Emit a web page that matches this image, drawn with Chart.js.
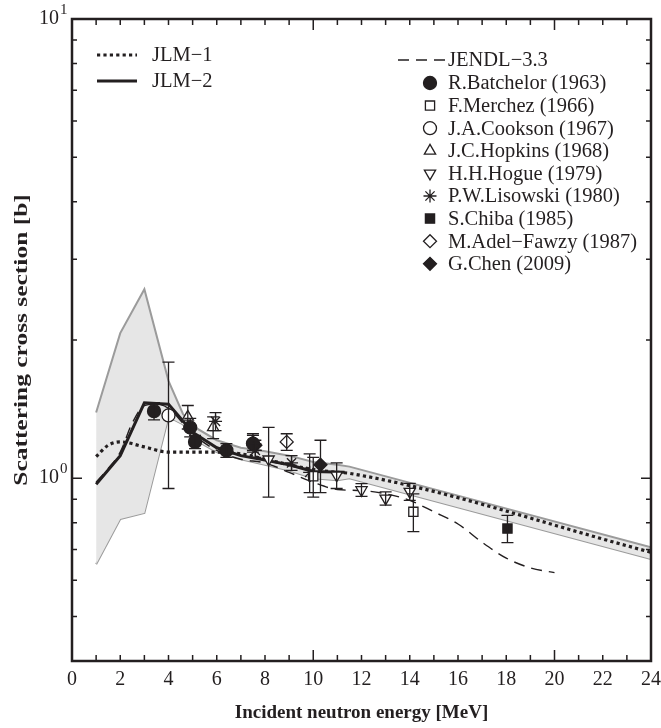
<!DOCTYPE html>
<html>
<head>
<meta charset="utf-8">
<script src="https://cdn.jsdelivr.net/npm/chart.js@4.4.0/dist/chart.umd.min.js"></script>
<style>
  html, body { margin: 0; padding: 0; background: #fff; }
  #wrap { width: 661px; height: 728px; }
</style>
</head>
<body>
<div id="wrap"><canvas id="chart"></canvas></div>
<script>
// axis ranges / tick labels
const xRange = [0, 24];
const xTickLabels = [0, 2, 4, 6, 8, 10, 12, 14, 16, 18, 20, 22, 24];
const yRange = [0.4, 10];
const yTickValues = [1, 10];
const yTickBase = ['10', '10'];
const yTickExp = ['0', '1'];
const yTitle = 'Scattering cross section [b]';

// uncertainty band of the JLM calculations
const bandE = [1, 2, 3, 4, 4.6, 5, 6, 7, 8, 9, 10, 11, 11.5, 24];
const bandUpper = [1.39, 2.07, 2.58, 1.63, 1.38, 1.30, 1.21, 1.165, 1.145, 1.12, 1.085, 1.07, 1.06, 0.707];
const bandLower = [0.65, 0.815, 0.84, 1.36, 1.31, 1.22, 1.14, 1.10, 1.07, 1.04, 1.0, 0.99, 1.0, 0.667];

// calculations
const jlm1E = [1, 1.5, 2, 3, 4, 5, 6, 7, 8, 9, 10, 11, 11.5, 24];
const jlm1S = [1.115, 1.18, 1.2, 1.17, 1.14, 1.14, 1.14, 1.13, 1.10, 1.07, 1.045, 1.03, 1.025, 0.69];
const jlm2E = [1, 2, 3, 4, 5, 6, 7, 8, 9, 10, 11.3];
const jlm2S = [0.97, 1.12, 1.46, 1.45, 1.26, 1.165, 1.12, 1.095, 1.07, 1.035, 1.03];
const jendlE = [1, 1.5, 2, 2.5, 3, 3.5, 4, 5, 6, 7, 8, 9, 10, 11, 12, 13, 14, 15, 16, 17, 18, 19, 20];
const jendlS = [0.98, 1.05, 1.14, 1.32, 1.44, 1.45, 1.42, 1.25, 1.15, 1.10, 1.08, 1.03, 0.98, 0.945, 0.94, 0.925, 0.895, 0.845, 0.795, 0.725, 0.67, 0.638, 0.623];

// measurements (energy, cross section, error)
const batchelorE = [3.4, 4.9, 5.1, 6.4, 7.5];
const batchelorS = [1.40, 1.29, 1.20, 1.15, 1.19];
const batchelorErr = [0.06, 0.06, 0.04, 0.04, 0.05];
const merchezE = [10.0, 14.15];
const merchezS = [1.01, 0.845];
const merchezErr = [0.10, 0.08];
const cooksonE = [4.0];
const cooksonS = [1.37];
const cooksonErr = [0.42];
const hopkinsE = [4.8, 5.85, 7.5];
const hopkinsS = [1.36, 1.29, 1.20];
const hopkinsErr = [0.08, 0.07, 0.05];
const hogueE = [8.15, 10.97, 12.0, 13.0, 14.0];
const hogueS = [1.10, 1.015, 0.943, 0.904, 0.935];
const hogueErr = [0.19, 0.065, 0.03, 0.03, 0.04];
const lisowskiE = [5.95, 7.6, 9.1, 9.85];
const lisowskiS = [1.33, 1.15, 1.08, 1.03];
const lisowskiErr = [0.06, 0.04, 0.04, 0.10];
const chibaE = [18.05];
const chibaS = [0.777];
const chibaErr = [0.053];
const adelE = [8.9];
const adelS = [1.20];
const adelErr = [0.05];
const chenE = [7.6, 10.3];
const chenS = [1.18, 1.07];
const chenErr = [0.03, 0.14];

const INK = '#231f20';
const GRAY = '#9b9b9b';
const SERIF = '"Liberation Serif", "Times New Roman", serif';

const pts = (xs, ys) => xs.map((x, i) => ({ x: x, y: ys[i] }));

function lineSet(label, xs, ys, extra) {
  return Object.assign({
    label: label,
    data: pts(xs, ys),
    showLine: true,
    borderColor: INK,
    backgroundColor: INK,
    pointRadius: 0,
    tension: 0,
    fill: false
  }, extra);
}

function markerSet(label, xs, ys, errs, style, filled, extra) {
  return Object.assign({
    label: label,
    data: pts(xs, ys),
    errs: errs,
    showLine: false,
    pointStyle: style,
    pointRadius: 6.5,
    pointBorderWidth: 1.3,
    borderColor: INK,
    backgroundColor: filled ? INK : '#fff',
    order: 1
  }, extra);
}

const bandSets = [
  lineSet('band upper', bandE, bandUpper, { borderColor: GRAY, borderWidth: 2, fill: '+1', backgroundColor: '#e6e6e6', order: 10 }),
  lineSet('band lower', bandE, bandLower, { borderColor: GRAY, borderWidth: 2, order: 10 })
];
const jendl = lineSet('JENDL−3.3', jendlE, jendlS, { borderWidth: 1.4, borderDash: [11, 7], cubicInterpolationMode: 'monotone', order: 5 });
const jlm1 = lineSet('JLM−1', jlm1E, jlm1S, { borderWidth: 3.2, borderDash: [3.2, 3.2], cubicInterpolationMode: 'monotone', order: 4 });
const jlm2 = lineSet('JLM−2', jlm2E, jlm2S, { borderWidth: 3, order: 3 });

const markers = [
  markerSet('R.Batchelor (1963)', batchelorE, batchelorS, batchelorErr, 'circle', true),
  markerSet('F.Merchez (1966)', merchezE, merchezS, merchezErr, 'rect', false),
  markerSet('J.A.Cookson (1967)', cooksonE, cooksonS, cooksonErr, 'circle', false),
  markerSet('J.C.Hopkins (1968)', hopkinsE, hopkinsS, hopkinsErr, 'triangle', false),
  markerSet('H.H.Hogue (1979)', hogueE, hogueS, hogueErr, 'triangle', false, { pointRotation: 180 }),
  markerSet('P.W.Lisowski (1980)', lisowskiE, lisowskiS, lisowskiErr, 'star', false),
  markerSet('S.Chiba (1985)', chibaE, chibaS, chibaErr, 'rect', true),
  markerSet('M.Adel−Fawzy (1987)', adelE, adelS, adelErr, 'rectRot', false),
  markerSet('G.Chen (2009)', chenE, chenS, chenErr, 'rectRot', true)
];

// error bars drawn through the scales
const errorBars = {
  id: 'errorBars',
  afterDatasetsDraw(chart) {
    const ctx = chart.ctx, xs = chart.scales.x, ys = chart.scales.y;
    ctx.save();
    ctx.strokeStyle = INK;
    ctx.lineWidth = 1.3;
    chart.data.datasets.forEach(ds => {
      if (!ds.errs) return;
      ds.data.forEach((p, i) => {
        const e = ds.errs[i];
        const px = xs.getPixelForValue(p.x);
        const y1 = ys.getPixelForValue(p.y + e), y2 = ys.getPixelForValue(p.y - e);
        ctx.beginPath();
        ctx.moveTo(px, y1); ctx.lineTo(px, y2);
        ctx.moveTo(px - 6, y1); ctx.lineTo(px + 6, y1);
        ctx.moveTo(px - 6, y2); ctx.lineTo(px + 6, y2);
        ctx.stroke();
      });
    });
    ctx.restore();
  }
};

// frame, inward ticks, y exponents and the (stretched) y title
const frame = {
  id: 'frame',
  afterDraw(chart) {
    const ctx = chart.ctx, a = chart.chartArea, xs = chart.scales.x, ys = chart.scales.y;
    ctx.save();
    ctx.strokeStyle = INK;
    ctx.lineWidth = 1.5;
    for (let v = xRange[0] + 1; v < xRange[1]; v++) {
      const px = xs.getPixelForValue(v);
      const len = v % 10 === 0 ? 11 : 6;
      ctx.beginPath();
      ctx.moveTo(px, a.bottom); ctx.lineTo(px, a.bottom - len);
      ctx.moveTo(px, a.top); ctx.lineTo(px, a.top + len);
      ctx.stroke();
    }
    const yMinor = [0.5, 0.6, 0.7, 0.8, 0.9, 2, 3, 4, 5, 6, 7, 8, 9];
    yMinor.concat(yTickValues).forEach(v => {
      const py = ys.getPixelForValue(v);
      const len = yTickValues.includes(v) ? 10 : 5;
      ctx.beginPath();
      ctx.moveTo(a.left, py); ctx.lineTo(a.left + len, py);
      ctx.moveTo(a.right, py); ctx.lineTo(a.right - len, py);
      ctx.stroke();
    });
    ctx.lineWidth = 2.5;
    ctx.strokeRect(a.left, a.top, a.right - a.left, a.bottom - a.top);

    ctx.fillStyle = INK;
    ctx.font = '15px ' + SERIF;
    ctx.textBaseline = 'middle';
    ctx.textAlign = 'left';
    yTickValues.forEach((v, i) => {
      ctx.fillText(yTickExp[i], a.left - 12, ys.getPixelForValue(v) - 9);
    });

    ctx.translate(22, (a.top + a.bottom) / 2);
    ctx.rotate(-Math.PI / 2);
    ctx.scale(1.34, 1);
    ctx.font = 'bold 19px ' + SERIF;
    ctx.textAlign = 'center';
    ctx.fillText(yTitle, 0, 0);
    ctx.restore();
  }
};

// two legend blocks
const legendBoxes = {
  id: 'legendBoxes',
  afterDraw(chart) {
    const ctx = chart.ctx;
    ctx.save();
    ctx.font = '20.5px ' + SERIF;
    ctx.fillStyle = INK;
    ctx.textBaseline = 'middle';
    const sample = (ds, x0, x1, y) => {
      ctx.save();
      ctx.strokeStyle = INK;
      ctx.lineWidth = ds.borderWidth;
      ctx.setLineDash(ds.borderDash || []);
      ctx.beginPath(); ctx.moveTo(x0, y); ctx.lineTo(x1, y); ctx.stroke();
      ctx.restore();
    };
    [jlm1, jlm2].forEach((ds, i) => {
      const y = 55 + i * 26;
      sample(ds, 97, 137, y);
      ctx.fillText(ds.label, 152, y + 1);
    });
    sample(jendl, 398, 445, 60);
    ctx.fillText(jendl.label, 448, 61);
    markers.forEach((ds, i) => {
      const y = 83 + i * 22.6;
      ctx.save();
      ctx.fillStyle = ds.backgroundColor; ctx.strokeStyle = INK; ctx.lineWidth = 1.3;
      Chart.helpers.drawPoint(ctx, { pointStyle: ds.pointStyle, radius: 6.5, rotation: ds.pointRotation || 0, borderWidth: 1.3 }, 430, y);
      ctx.restore();
      ctx.fillText(ds.label, 448, y + 1);
    });
    ctx.restore();
  }
};

new Chart(document.getElementById('chart'), {
  type: 'scatter',
  data: { datasets: bandSets.concat([jendl, jlm1, jlm2], markers) },
  options: {
    responsive: true,
    maintainAspectRatio: false,
    animation: false,
    devicePixelRatio: 1,
    layout: { padding: { top: 19, right: 10, left: 0, bottom: 0 } },
    plugins: { legend: { display: false }, tooltip: { enabled: false } },
    scales: {
      x: {
        type: 'linear', min: xRange[0], max: xRange[1],
        afterFit: s => { s.height = 67; s.paddingLeft = 0; s.paddingRight = 0; },
        afterBuildTicks: s => { s.ticks = xTickLabels.map(v => ({ value: v })); },
        grid: { display: false, drawTicks: false },
        border: { display: false },
        ticks: { color: INK, font: { family: SERIF, size: 20 }, padding: 7, maxRotation: 0 },
        title: { display: true, text: 'Incident neutron energy [MeV]', color: INK, font: { family: SERIF, size: 19, weight: 'bold' }, padding: { top: 0, bottom: 4 } }
      },
      y: {
        type: 'logarithmic', min: yRange[0], max: yRange[1],
        afterFit: s => { s.width = 72; s.paddingTop = 0; s.paddingBottom = 0; },
        afterBuildTicks: s => { s.ticks = yTickValues.map(v => ({ value: v })); },
        grid: { display: false, drawTicks: false },
        border: { display: false },
        ticks: { color: INK, font: { family: SERIF, size: 20 }, padding: 13,
          callback: v => yTickBase[yTickValues.indexOf(v)] },
        title: { display: false }
      }
    }
  },
  plugins: [errorBars, frame, legendBoxes]
});
</script>
</body>
</html>
